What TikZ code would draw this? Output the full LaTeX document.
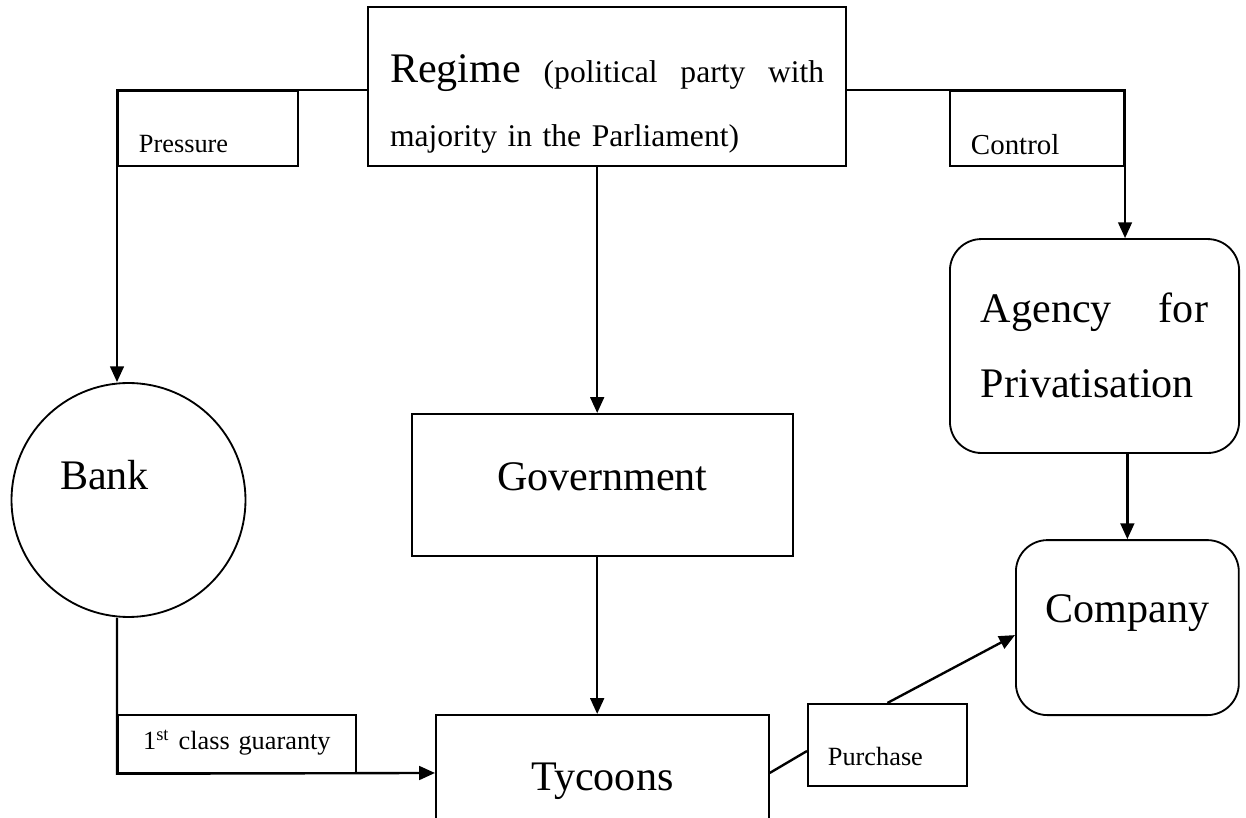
\documentclass[tikz,border=0pt]{standalone}
\usepackage{fontspec}
\setmainfont{Liberation Serif}
\usetikzlibrary{positioning,arrows.meta}

\begin{document}
\begin{tikzpicture}[
    x=0.38pt, y=-0.38pt,
    block/.style={draw, line width=0.7pt, inner sep=0pt, align=center, font=\fontsize{16}{28.5}\selectfont},
    rblock/.style={block, rounded corners=12pt},
    tag/.style={draw, line width=0.7pt, inner ysep=0pt, inner xsep=8pt, align=left, font=\fontsize{10}{12}\selectfont},
    arr/.style={-{Triangle[length=6pt, width=5.2pt]}, line width=0.9pt},
    link/.style={line width=0.9pt}
]
    \useasboundingbox (0,0) rectangle (1246,818);
    \clip (0,0) rectangle (1246,818);

    \node[block, anchor=base west, align=left, inner xsep=8.4pt, text width=165pt, text height=28.9pt, text depth=31.5pt, font=\fontsize{12}{24.3}\selectfont] (regime) at (367,83) {{\fontsize{16}{24.3}\selectfont Regime}\hfill(political\hfill party\hfill with\\majority in the Parliament)};
    \node[block, anchor=base west, text width=144.8pt, text height=29.3pt, text depth=24.7pt] (government) at (411,491) {Government};
    \node[block, anchor=base west, text width=126.5pt, text height=28.9pt, text depth=15.2pt] (tycoons) at (435,791) {Tycoons};
    \node[block, circle, align=left, text width=52pt, text height=11.4pt, text depth=19pt, minimum size=88.9pt] (bank) at (128.5,500) {Bank};
    \node[rblock, anchor=base west, align=left, inner xsep=11.8pt, text width=86.3pt, text height=31.9pt, text depth=49.4pt] (agency) at (949,323) {Agency\hfill for\\Privatisation};
    \node[rblock, anchor=base west, text width=84.7pt, text height=31.5pt, text depth=35pt] (company) at (1015,623) {Company};

    \node[tag, anchor=base west, text width=52.4pt, text height=23.6pt, text depth=4.9pt] (pressure) at (117,153) {Pressure};
    \node[tag, anchor=base west, text width=50.2pt, text height=24.3pt, text depth=4.2pt, font=\fontsize{11}{13}\selectfont] (control) at (949,155) {Control};
    \node[tag, anchor=base west, align=center, inner xsep=0pt, text width=90.4pt, text height=13.3pt, text depth=8.7pt] (guaranty) at (117,750) {1\textsuperscript{st} class guaranty};
    \node[tag, anchor=base west, inner xsep=7.6pt, text width=45.2pt, text height=23.6pt, text depth=7.6pt] (purchase) at (807,766) {Purchase};

    \coordinate (gtop) at ([xshift=-2pt]government.north);
    \coordinate (gbot) at ([xshift=-2pt]government.south);

    \draw[arr] (pressure.north west -| regime.west) -- (pressure.north west) -- (pressure.north west |- bank.north);
    \draw[arr] (control.north east -| regime.east) -- (control.north east) -- (control.north east |- agency.north);
    \draw[arr] (gtop |- regime.south) -- (gtop);
    \draw[arr] (gbot) -- (gbot |- tycoons.north);
    \draw[arr] (agency.south -| company.north) -- (company.north);
    \draw[arr] (guaranty.south west |- bank.south) -- (guaranty.south west) -- (tycoons.west);
    \draw[link] (tycoons.east) -- ([yshift=-2.3pt]purchase.west);
    \draw[arr] (purchase.north) -- ([yshift=-2.85pt]company.west);
\end{tikzpicture}
\end{document}
